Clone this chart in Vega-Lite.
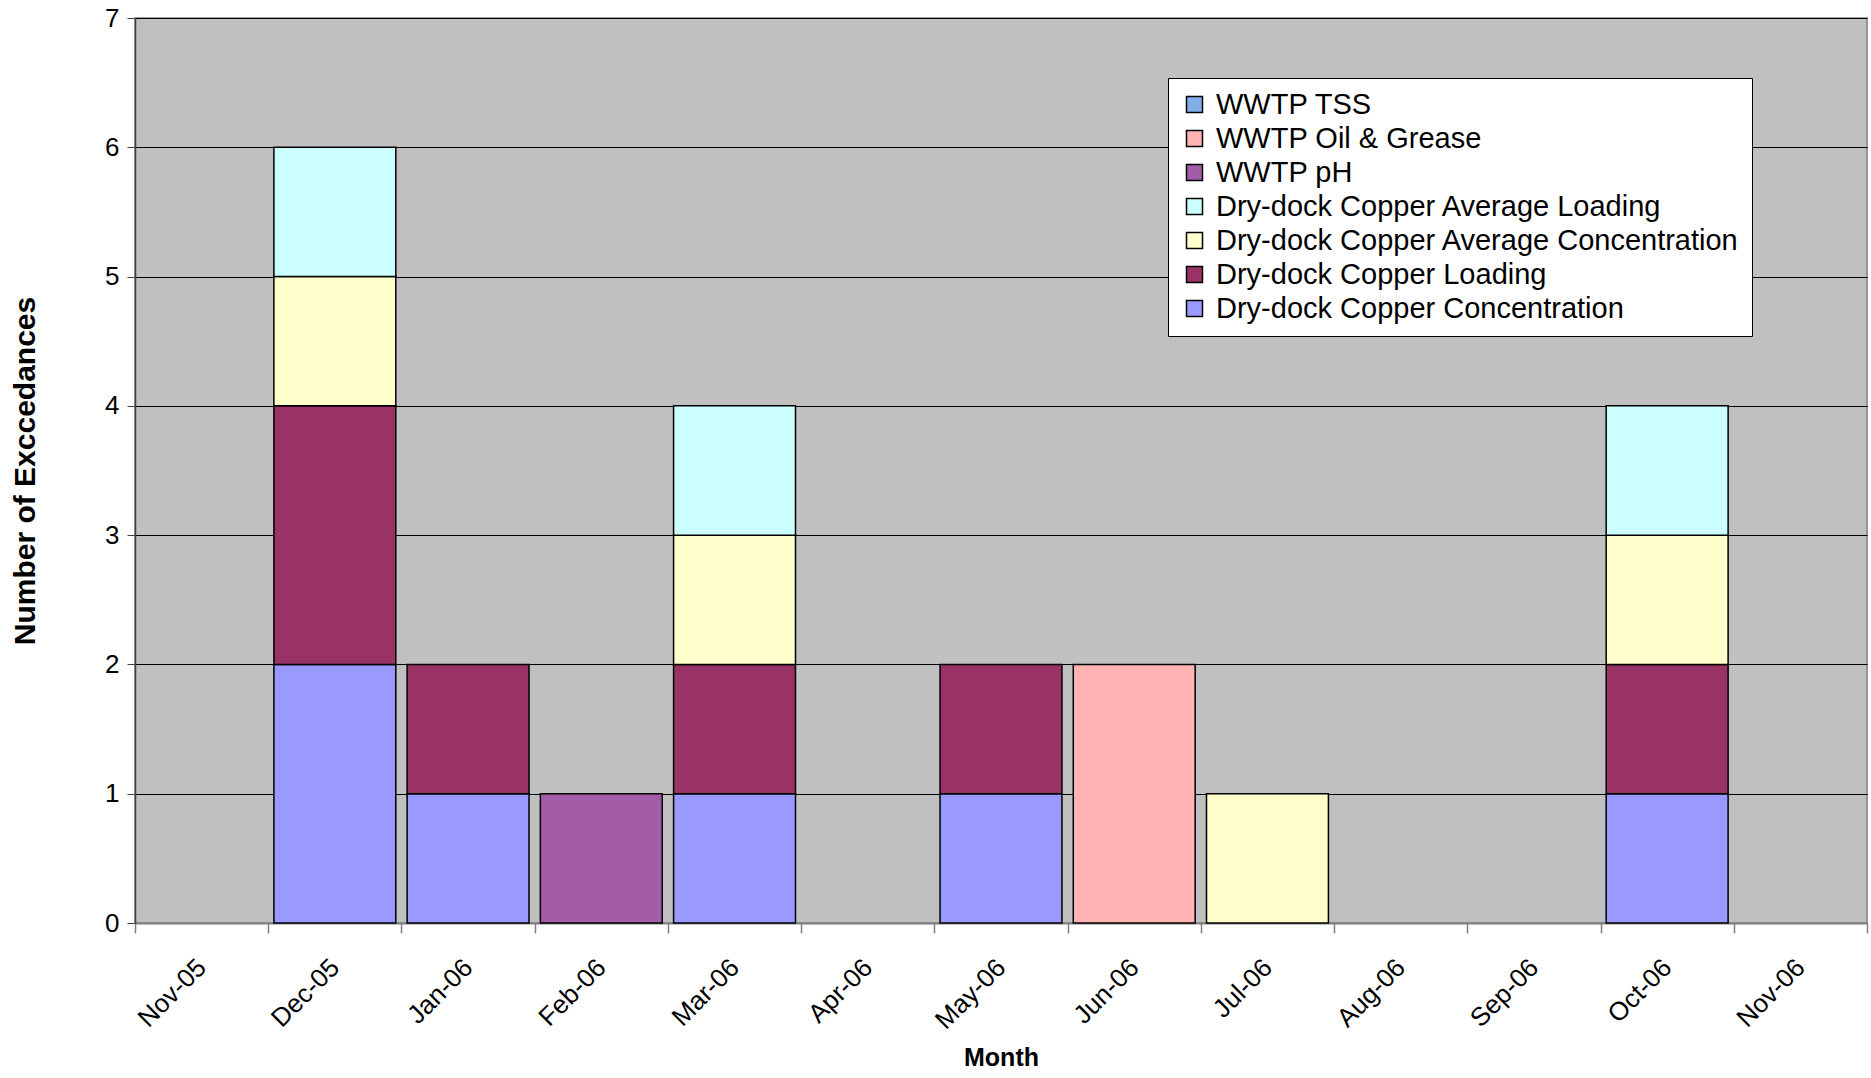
{
  "$schema": "https://vega.github.io/schema/vega-lite/v6.json",
  "width": 1732,
  "height": 905,
  "autosize": {"type": "none"},
  "padding": {"left": 135, "top": 18, "right": 4, "bottom": 155},
  "background": "#FFFFFF",
  "config": {
    "font": "Liberation Sans",
    "view": {"fill": "#C0C0C0", "stroke": "#808080", "strokeWidth": 1.5}
  },
  "data": {
    "values": [
      {"month": "Dec-05", "series": "Dry-dock Copper Concentration", "count": 2},
      {"month": "Dec-05", "series": "Dry-dock Copper Loading", "count": 2},
      {"month": "Dec-05", "series": "Dry-dock Copper Average Concentration", "count": 1},
      {"month": "Dec-05", "series": "Dry-dock Copper Average Loading", "count": 1},
      {"month": "Jan-06", "series": "Dry-dock Copper Concentration", "count": 1},
      {"month": "Jan-06", "series": "Dry-dock Copper Loading", "count": 1},
      {"month": "Feb-06", "series": "WWTP pH", "count": 1},
      {"month": "Mar-06", "series": "Dry-dock Copper Concentration", "count": 1},
      {"month": "Mar-06", "series": "Dry-dock Copper Loading", "count": 1},
      {"month": "Mar-06", "series": "Dry-dock Copper Average Concentration", "count": 1},
      {"month": "Mar-06", "series": "Dry-dock Copper Average Loading", "count": 1},
      {"month": "May-06", "series": "Dry-dock Copper Concentration", "count": 1},
      {"month": "May-06", "series": "Dry-dock Copper Loading", "count": 1},
      {"month": "Jun-06", "series": "WWTP Oil & Grease", "count": 2},
      {"month": "Jul-06", "series": "Dry-dock Copper Average Concentration", "count": 1},
      {"month": "Oct-06", "series": "Dry-dock Copper Concentration", "count": 1},
      {"month": "Oct-06", "series": "Dry-dock Copper Loading", "count": 1},
      {"month": "Oct-06", "series": "Dry-dock Copper Average Concentration", "count": 1},
      {"month": "Oct-06", "series": "Dry-dock Copper Average Loading", "count": 1}
    ]
  },
  "transform": [
    {"calculate": "indexof(['Dry-dock Copper Concentration', 'Dry-dock Copper Loading', 'Dry-dock Copper Average Concentration', 'Dry-dock Copper Average Loading', 'WWTP pH', 'WWTP Oil & Grease', 'WWTP TSS'], datum.series)", "as": "stackRank"}
  ],
  "mark": {"type": "bar", "stroke": "#000000", "strokeWidth": 1.5, "width": {"band": 0.915}},
  "encoding": {
    "x": {
      "field": "month",
      "type": "nominal",
      "scale": {
        "domain": ["Nov-05", "Dec-05", "Jan-06", "Feb-06", "Mar-06", "Apr-06", "May-06", "Jun-06", "Jul-06", "Aug-06", "Sep-06", "Oct-06", "Nov-06"],
        "paddingInner": 0,
        "paddingOuter": 0
      },
      "axis": {
        "title": "Month",
        "titleFontSize": 25,
        "titleFontWeight": "bold",
        "titleColor": "#000000",
        "titlePadding": 12,
        "labelAngle": -45,
        "labelAlign": "right",
        "labelBaseline": "middle",
        "labelFontSize": 26,
        "labelColor": "#000000",
        "labelPadding": 30,
        "tickBand": "extent",
        "tickSize": 10,
        "tickColor": "#808080",
        "tickWidth": 1.5,
        "domainColor": "#808080",
        "domainWidth": 2,
        "grid": false
      }
    },
    "y": {
      "field": "count",
      "type": "quantitative",
      "aggregate": "sum",
      "stack": "zero",
      "scale": {"domain": [0, 7], "nice": false},
      "axis": {
        "title": "Number of Exccedances",
        "titleFontSize": 30,
        "titleFontWeight": "bold",
        "titleColor": "#000000",
        "titlePadding": 64,
        "values": [0, 1, 2, 3, 4, 5, 6, 7],
        "labelFontSize": 26,
        "labelColor": "#000000",
        "labelPadding": 8,
        "tickSize": 8,
        "tickColor": "#404040",
        "domainColor": "#404040",
        "domainWidth": 1.5,
        "grid": true,
        "gridColor": "#000000",
        "gridWidth": 1,
        "gridOpacity": 1
      }
    },
    "order": {"field": "stackRank", "type": "quantitative", "sort": "ascending"},
    "color": {
      "field": "series",
      "type": "nominal",
      "sort": ["WWTP TSS", "WWTP Oil & Grease", "WWTP pH", "Dry-dock Copper Average Loading", "Dry-dock Copper Average Concentration", "Dry-dock Copper Loading", "Dry-dock Copper Concentration"],
      "scale": {
        "domain": ["WWTP TSS", "WWTP Oil & Grease", "WWTP pH", "Dry-dock Copper Average Loading", "Dry-dock Copper Average Concentration", "Dry-dock Copper Loading", "Dry-dock Copper Concentration"],
        "range": ["#7FAEE8", "#FFB3B3", "#A35CA8", "#CCFFFF", "#FFFFCC", "#993366", "#9999FF"]
      },
      "legend": {
        "title": null,
        "orient": "none",
        "legendX": 1033,
        "legendY": 60,
        "fillColor": "#FFFFFF",
        "strokeColor": "#000000",
        "padding": 12,
        "symbolType": "square",
        "symbolSize": 256,
        "symbolStrokeColor": "#000000",
        "symbolStrokeWidth": 1.5,
        "symbolOpacity": 1,
        "labelFontSize": 29,
        "labelColor": "#000000",
        "labelLimit": 0,
        "labelOffset": 7,
        "rowPadding": 4
      }
    }
  }
}
